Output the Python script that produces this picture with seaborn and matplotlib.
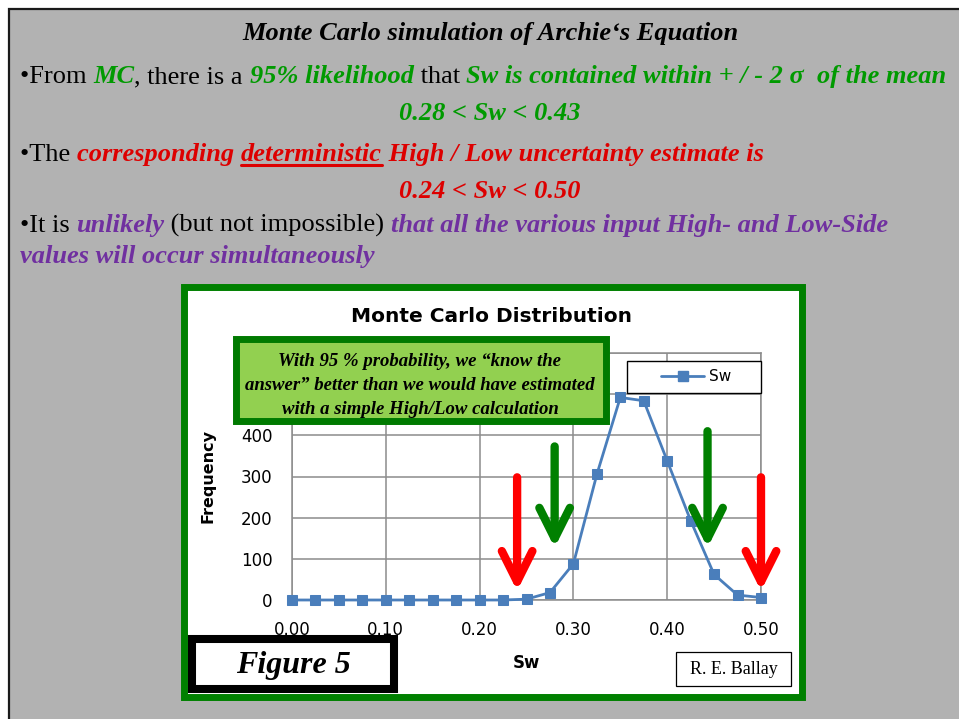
import matplotlib
matplotlib.use("Agg")
import matplotlib.pyplot as plt
import seaborn as sns
from matplotlib.patches import Rectangle
from matplotlib.lines import Line2D
from matplotlib.transforms import IdentityTransform

W, H = 959, 719

# histogram of the Monte Carlo Sw results
sw_bins = [0.000, 0.025, 0.050, 0.075, 0.100, 0.125, 0.150, 0.175, 0.200, 0.225,
           0.250, 0.275, 0.300, 0.325, 0.350, 0.375, 0.400, 0.425, 0.450, 0.475, 0.500]
frequency = [0, 0, 0, 0, 0, 0, 0, 0, 0, 0,
             2, 18, 88, 305, 492, 484, 338, 193, 62, 12, 6]

x_ticks = [0.0, 0.1, 0.2, 0.3, 0.4, 0.5]
x_tick_labels = ["0.00", "0.10", "0.20", "0.30", "0.40", "0.50"]
y_ticks = [0, 100, 200, 300, 400, 500, 600]
# 500 and 600 sit under the call-out box in the original
y_tick_labels = ["0", "100", "200", "300", "400", "", ""]

# deterministic low/high (red) and MC 95% range (green)
det_range = [0.24, 0.50]
mc_range = [0.28, 0.443]

GREEN = "#009a00"
RED = "#dd0000"
PURPLE = "#7030a0"
SERIF = "Liberation Serif"
BODY = 19


def px_rect(x0, y0, x1, y1, **kw):
    return Rectangle((x0 / W, 1 - y1 / H), (x1 - x0) / W, (y1 - y0) / H,
                     transform=fig.transFigure, **kw)


def text_width(s, **props):
    t = fig.text(0, 0, "|" + s + "|", transform=IdentityTransform(), **props)
    w1 = t.get_window_extent(renderer).width
    t.set_text("||")
    w2 = t.get_window_extent(renderer).width
    t.remove()
    return w1 - w2


def draw_runs(runs, y, x=None, center=None, size=BODY):
    """Draw a line of mixed-style text pieces, y is the baseline in image px."""
    widths = [text_width(s, fontsize=size, **st) for s, st in runs]
    if center is not None:
        x = center - sum(widths) / 2
    spans = []
    for (s, st), w in zip(runs, widths):
        fig.text(x, H - y, s, transform=IdentityTransform(), fontsize=size,
                 va="baseline", **st)
        spans.append((x, w))
        x += w
    return spans


def reg():
    return dict(family=SERIF, color="black")


def bi(color):
    return dict(family=SERIF, color=color, weight="bold", style="italic")


sns.set_style("white")
plt.rcParams.update({"text.color": "black", "xtick.color": "black",
                     "ytick.color": "black", "axes.labelcolor": "black"})
fig = plt.figure(figsize=(W / 100, H / 100), dpi=100)
fig.patch.set_facecolor("white")
renderer = fig.canvas.get_renderer()

# slide background
fig.add_artist(px_rect(9, 9, W + 20, H + 20, facecolor="#b2b2b2",
                       edgecolor="#1a1a1a", lw=1.6, zorder=-5))
# chart frame
fig.add_artist(px_rect(183.5, 286.5, 801.5, 696.5, facecolor="white",
                       edgecolor="#008000", lw=5, zorder=-4))

# ---- chart ----
ax = fig.add_axes([292 / W, 1 - 600 / H, 469 / W, 247 / H])
ax.set_facecolor("white")
sns.lineplot(x=sw_bins, y=frequency, marker="s", color="#4a7ebb",
             markersize=7, markeredgecolor="#4a7ebb", linewidth=2,
             clip_on=False, ax=ax, zorder=5)
ax.set_xlim(0, 0.5)
ax.set_ylim(0, 600)
ax.set_xticks(x_ticks)
ax.set_xticklabels(x_tick_labels)
ax.set_yticks(y_ticks)
ax.set_yticklabels(y_tick_labels)
ax.grid(True, color="#8c8c8c", lw=1.1)
for sp in ax.spines.values():
    sp.set_color("#8c8c8c")
    sp.set_linewidth(1.1)
ax.tick_params(axis="x", length=3, color="#8c8c8c", pad=12, labelsize=12)
ax.tick_params(axis="y", length=0, pad=14, labelsize=12)
ax.set_xlabel("")
ax.set_ylabel("")

for xv, col, top in [(det_range[0], "#ff0000", 298), (mc_range[0], "#008000", 373),
                     (mc_range[1], "#008000", 410), (det_range[1], "#ff0000", 298)]:
    tip = 22 if col == "#ff0000" else 127
    ax.annotate("", xy=(xv, tip), xytext=(xv, top),
                arrowprops=dict(arrowstyle="->,head_length=1.1,head_width=0.55",
                                color=col, lw=6, shrinkA=0, shrinkB=0,
                                mutation_scale=20),
                annotation_clip=False, zorder=6)

fig.text(491 / W, 1 - 316 / H, "Monte Carlo Distribution", ha="center",
         va="center", fontsize=14.5, weight="bold", family="DejaVu Sans")
fig.text(208 / W, 1 - 476 / H, "Frequency", ha="center", va="center",
         rotation=90, fontsize=11.5, weight="bold", family="DejaVu Sans")
fig.text(526 / W, 1 - 663 / H, "Sw", ha="center", va="center",
         fontsize=12, weight="bold", family="DejaVu Sans")

# legend
fig.add_artist(px_rect(627, 361, 761, 393, facecolor="white",
                       edgecolor="black", lw=1, zorder=4))
handle = Line2D([], [], color="#4a7ebb", marker="s", markersize=7, lw=2)
fig.legend([handle], ["Sw"], loc="center", bbox_to_anchor=(696 / W, 1 - 377 / H),
           frameon=False, fontsize=11, handlelength=2.8, handletextpad=0.3)

# green call-out
fig.add_artist(px_rect(235.5, 338.5, 605.5, 420.5, facecolor="#92d050",
                       edgecolor="#007a00", lw=5, zorder=6))
callout = ["With 95 % probability, we \u201cknow the",
           "answer\u201d better than we would have estimated",
           "with a simple High/Low calculation"]
for line, yc in zip(callout, [362, 386, 409]):
    fig.text(420 / W, 1 - yc / H, line, ha="center", va="center", fontsize=13.5,
             zorder=7, **bi("black"))

# Figure 5 and author boxes
fig.add_artist(px_rect(192, 639, 394, 689, facecolor="white",
                       edgecolor="black", lw=5.8, zorder=6))
fig.text(293 / W, 1 - 665 / H, "Figure 5", ha="center", va="center",
         fontsize=23, zorder=7, **bi("black"))
fig.add_artist(px_rect(676, 652, 791, 686, facecolor="white",
                       edgecolor="black", lw=0.9, zorder=6))
fig.text(734 / W, 1 - 669 / H, "R. E. Ballay", ha="center", va="center",
         fontsize=13, family=SERIF, zorder=7)

# ---- slide text ----
draw_runs([("Monte Carlo simulation of Archie\u2018s Equation", bi("black"))],
          40, center=490)
draw_runs([("\u2022From ", reg()), ("MC", bi(GREEN)), (", there is a ", reg()),
           ("95% likelihood", bi(GREEN)), (" that ", reg()),
           ("Sw is contained within + / - 2 \u03c3  of the mean", bi(GREEN))],
          83, x=20)
draw_runs([("0.28 < Sw < 0.43", bi(GREEN))], 120, center=490)
spans = draw_runs([("\u2022The ", reg()), ("corresponding ", bi(RED)),
                   ("deterministic", bi(RED)),
                   (" High / Low uncertainty estimate is", bi(RED))], 161, x=20)
ux, uw = spans[2]
fig.add_artist(Line2D([ux, ux + uw], [H - 165, H - 165], color=RED, lw=2.2,
                      transform=IdentityTransform()))
draw_runs([("0.24 < Sw < 0.50", bi(RED))], 198, center=490)
draw_runs([("\u2022It is ", reg()), ("unlikely", bi(PURPLE)),
           (" (but not impossible) ", reg()),
           ("that all the various input High- and Low-Side", bi(PURPLE))],
          232, x=20)
draw_runs([("values will occur simultaneously", bi(PURPLE))], 263, x=20)

fig.savefig("out.png", dpi=100)
